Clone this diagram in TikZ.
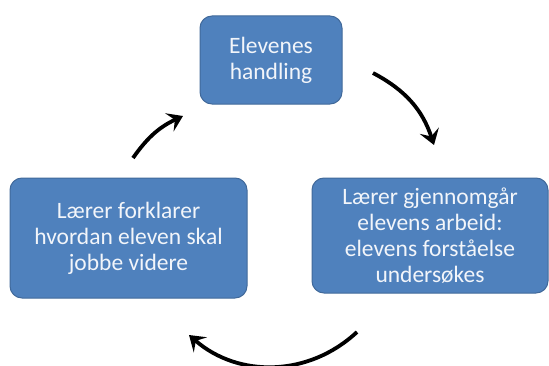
\documentclass[tikz,border=0pt]{standalone}
\usepackage{fontspec}
\setmainfont{Carlito}
\usetikzlibrary{arrows.meta}
\definecolor{boxblue}{HTML}{4F81BD}
\definecolor{boxedge}{HTML}{41699A}
\definecolor{boxtext}{HTML}{F2F5FA}
\tikzset{
  stepbox/.style={rectangle, rounded corners=12pt, fill=boxblue, draw=boxedge,
    line width=1pt, text=boxtext, align=center, inner sep=0pt,
    font=\fontsize{23.5}{26}\selectfont},
  cyclearrow/.style={line width=3.8pt, -{Stealth[length=15pt,width=20pt,inset=6pt]}}
}
\begin{document}
\begin{tikzpicture}[x=1pt,y=1pt]
\useasboundingbox (0,0) rectangle (549,365);
\node[stepbox, minimum width=142pt, minimum height=88pt] (top) at (271,305) {Elevenes\\handling};
\node[stepbox, minimum width=236pt, minimum height=115pt] (right) at (430,129.5) {Lærer gjennomgår\\elevens arbeid:\\elevens forståelse\\undersøkes};
\node[stepbox, minimum width=237pt, minimum height=120pt] (left) at (128.5,127) {Lærer forklarer\\hvordan eleven skal\\jobbe videre};
\coordinate (a1s) at (133,207);
\coordinate (a1e) at (183,249);
\coordinate (a2s) at (373,292);
\coordinate (a2e) at (434,220);
\coordinate (a3s) at (357,33);
\coordinate (a3e) at (189,30);
\draw[cyclearrow] (a1s) to[bend left=15] (a1e);
\draw[cyclearrow] (a2s) to[bend left=22] (a2e);
\draw[cyclearrow] (a3s) to[bend left=42] (a3e);
\end{tikzpicture}
\end{document}
